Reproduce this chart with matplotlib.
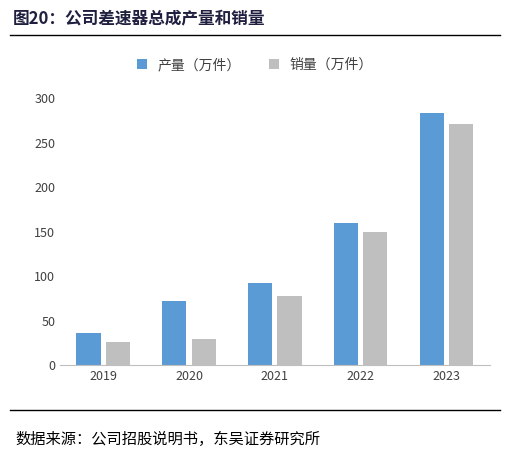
import numpy as np
import matplotlib
matplotlib.use('Agg')
import matplotlib.pyplot as plt
from matplotlib.lines import Line2D

plt.rcParams['font.family'] = ['Noto Sans CJK SC', 'DejaVu Sans']

years = ['2019', '2020', '2021', '2022', '2023']
production = [36, 72, 92, 160, 283]
sales = [26, 29, 77, 149, 271]

fig = plt.figure(figsize=(5.10, 4.58), dpi=100)
ax = fig.add_axes([0.118, 0.203, 0.842, 0.583])
x = np.arange(len(years))
w = 0.28
ax.bar(x - 0.17, production, w, color='#5b9bd5', label='产量（万件）')
ax.bar(x + 0.17, sales, w, color='#bfbfbf', label='销量（万件）')
ax.set_xticks(x)
ax.set_xticklabels(years, fontsize=9)
ax.set_ylim(0, 300)
ax.set_yticks(range(0, 301, 50))
ax.tick_params(axis='y', length=0, labelsize=9, colors='#404040')
ax.tick_params(axis='x', length=0, colors='#404040')
ax.set_xlim(-0.5, 4.5)
for s in ['top', 'right', 'left']:
    ax.spines[s].set_visible(False)
ax.spines['bottom'].set_color('#bfbfbf')
fig.legend(loc='center', bbox_to_anchor=(0.5, 0.858), ncol=2, frameon=False,
           fontsize=10, handlelength=0.7, handleheight=0.7, columnspacing=2,
           labelcolor='#404040')

fig.text(0.025, 0.96, '图20：公司差速器总成产量和销量', fontsize=12, fontweight='bold',
         color='#1f1f3f', va='center')
fig.add_artist(Line2D([0.02, 0.98], [0.924, 0.924], color='black', lw=1))
fig.add_artist(Line2D([0.02, 0.98], [0.105, 0.105], color='black', lw=1))
fig.text(0.03, 0.04, '数据来源：公司招股说明书，东吴证券研究所', fontsize=11, va='center')

fig.savefig('out.png', dpi=100)
